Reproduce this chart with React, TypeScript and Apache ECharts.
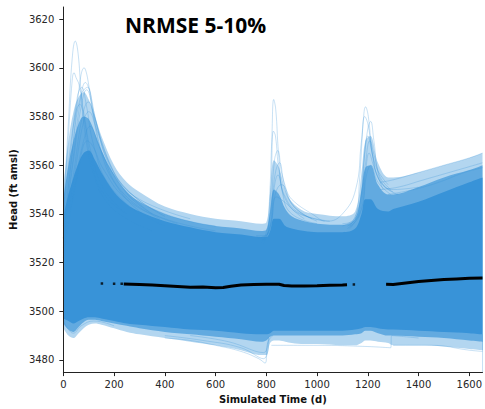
import React, { useEffect, useRef } from "react";
import * as echarts from "echarts";

// ---- data ----
const titleText = "NRMSE 5-10%";
const xTicks = [0, 200, 400, 600, 800, 1000, 1200, 1400, 1600];
const yTicks = [3480, 3500, 3520, 3540, 3560, 3580, 3600, 3620];

// envelope sample times (d)
const envT = [0, 20, 40, 60, 80, 100, 125, 150, 200, 250, 300, 400, 500, 600, 700, 780, 800, 815, 830, 850, 875, 900, 950, 1000, 1100, 1150, 1175, 1190, 1210, 1240, 1280, 1300, 1400, 1500, 1600, 1652];
// faint lower edge of ensemble
const lowFaint = [3493, 3490, 3489, 3491, 3493, 3494.5, 3495, 3494.5, 3493, 3491.5, 3490.5, 3489, 3487.5, 3486, 3484, 3482, 3482, 3487, 3488, 3488, 3487.5, 3487, 3486.5, 3486.5, 3486, 3486, 3487, 3488, 3488, 3487.5, 3487, 3486, 3486, 3485.5, 3484.5, 3484];
// medium lower edge
const lowMid = [3495, 3492.5, 3491.5, 3493.5, 3495.5, 3496.5, 3496.5, 3496, 3495, 3494, 3493, 3491.5, 3490.5, 3489.5, 3488.5, 3487.5, 3488, 3489.5, 3490, 3490, 3490, 3490, 3490, 3490, 3490, 3490.5, 3491, 3492, 3492, 3491, 3490, 3490, 3489.5, 3489, 3488, 3487.5];
// dense lower edge
const lowCore = [3497, 3496, 3495, 3496, 3497, 3497.5, 3497.5, 3497, 3496, 3495, 3494.5, 3493.5, 3492.5, 3492, 3491, 3490.5, 3490.5, 3491, 3492, 3492, 3492, 3492, 3492, 3492, 3492, 3492.5, 3493, 3493.5, 3493.5, 3493, 3492.5, 3492.5, 3492, 3491.5, 3491, 3490.5];
// dense upper edge
const highCore = [3539, 3548, 3555, 3561, 3565, 3566, 3562, 3557, 3549, 3544, 3541, 3537, 3534.5, 3532.5, 3531.5, 3530.5, 3530.5, 3533, 3538, 3538, 3535, 3534, 3533, 3532.5, 3532.5, 3534, 3540, 3546, 3546, 3542, 3541, 3542, 3545, 3549, 3553, 3555];
// medium upper edge
const highMid = [3546, 3560, 3570, 3577, 3580, 3579, 3573, 3566, 3556, 3549, 3545, 3540, 3537, 3535, 3534, 3533, 3533.5, 3541, 3550, 3548, 3542, 3539, 3537, 3536, 3535.5, 3538, 3550, 3559, 3560, 3552, 3548, 3548, 3551, 3555, 3558, 3560];
// faint upper edge
const highFaint = [3551, 3570, 3582, 3588, 3590, 3587, 3580, 3572, 3560, 3553, 3549, 3543, 3540, 3538, 3537, 3536, 3536.5, 3549, 3562, 3559, 3550, 3545, 3541, 3540, 3539, 3541, 3557, 3570, 3572, 3561, 3555, 3555, 3557, 3560, 3563, 3565];

// individual ensemble members visible outside the envelope
const earlyPeakLines = [
  [[0, 3541], [20, 3578], [35, 3604], [47, 3611], [58, 3606], [70, 3590], [90, 3570], [120, 3556], [170, 3545], [250, 3538], [350, 3533]],
  [[0, 3538], [20, 3572], [35, 3595], [42, 3598], [50, 3596], [62, 3593], [80, 3582], [110, 3565], [160, 3550], [250, 3540]],
  [[0, 3535], [30, 3560], [60, 3590], [82, 3600], [95, 3596], [115, 3582], [150, 3565], [200, 3553], [300, 3541], [400, 3535]],
  [[0, 3532], [35, 3560], [65, 3585], [87, 3594], [105, 3590], [130, 3577], [180, 3560], [250, 3549], [350, 3540]],
  [[0, 3530], [40, 3562], [70, 3584], [92, 3591], [115, 3584], [150, 3570], [220, 3553], [320, 3542], [450, 3536]],
  [[0, 3528], [45, 3560], [75, 3580], [98, 3586], [125, 3579], [170, 3564], [250, 3550], [400, 3539]],
  [[0, 3526], [50, 3560], [80, 3578], [100, 3582], [130, 3575], [180, 3561], [260, 3549], [400, 3540], [600, 3535]],
  [[0, 3524], [50, 3555], [85, 3572], [105, 3576], [140, 3568], [200, 3556], [300, 3546], [500, 3538]],
  [[0, 3540], [25, 3565], [50, 3582], [65, 3585], [80, 3580], [110, 3562], [160, 3548], [250, 3540]],
  [[0, 3522], [60, 3558], [95, 3570], [115, 3568], [160, 3558], [250, 3546], [400, 3538], [600, 3533]],
  [[0, 3536], [30, 3566], [55, 3588], [72, 3592], [90, 3585], [120, 3568], [180, 3552], [300, 3540]],
  [[0, 3530], [40, 3570], [70, 3589], [95, 3592], [120, 3580], [160, 3563], [240, 3548], [380, 3538]],
];
const midPeakLines = [
  [[760, 3531], [800, 3531], [812, 3545], [822, 3572], [829, 3587], [837, 3583], [848, 3565], [865, 3548], [900, 3540], [1000, 3536]],
  [[760, 3530], [805, 3532], [818, 3550], [828, 3574], [836, 3572], [850, 3558], [880, 3545], [950, 3538]],
  [[770, 3530], [810, 3533], [825, 3548], [838, 3558], [852, 3561], [870, 3553], [910, 3543], [1000, 3537]],
  [[780, 3529], [812, 3533], [830, 3550], [846, 3556], [870, 3548], [920, 3541], [1030, 3537]],
  [[780, 3528], [815, 3534], [835, 3548], [860, 3552], [900, 3546], [980, 3540], [1040, 3537], [1100, 3540], [1152, 3550], [1175, 3570], [1188, 3580], [1200, 3577], [1230, 3560], [1280, 3552]],
  [[790, 3528], [818, 3536], [840, 3547], [870, 3545], [930, 3540], [1050, 3537]],
  [[790, 3529], [815, 3540], [832, 3562], [845, 3566], [862, 3556], [900, 3544], [980, 3538]],
];
const latePeakLines = [
  [[1100, 3536], [1150, 3538], [1168, 3555], [1182, 3578], [1191, 3584], [1202, 3580], [1220, 3563], [1250, 3553], [1300, 3550], [1400, 3551]],
  [[1100, 3535], [1160, 3540], [1185, 3562], [1200, 3575], [1211, 3578], [1224, 3570], [1245, 3556], [1290, 3550]],
  [[1120, 3535], [1165, 3540], [1190, 3560], [1208, 3570], [1225, 3564], [1260, 3552], [1320, 3548]],
  [[1120, 3534], [1170, 3540], [1192, 3558], [1205, 3565], [1222, 3560], [1260, 3550]],
  [[1130, 3534], [1175, 3542], [1195, 3556], [1212, 3560], [1240, 3553], [1290, 3548]],
  [[1130, 3535], [1170, 3545], [1190, 3568], [1200, 3572], [1215, 3566], [1245, 3554], [1300, 3549]],
];
const rightUpperLines = [
  [[1250, 3553], [1300, 3554], [1400, 3557], [1500, 3560], [1600, 3563], [1652, 3565]],
  [[1250, 3550], [1320, 3551], [1420, 3554], [1520, 3557], [1620, 3560], [1652, 3561]],
  [[1280, 3548], [1380, 3550], [1480, 3553], [1580, 3557], [1652, 3559]],
];
const lowerTailLines = [
  [[400, 3489], [500, 3488], [600, 3486], [700, 3483.5], [770, 3480.5], [795, 3478.7], [805, 3487], [825, 3490]],
  [[400, 3490], [550, 3488], [700, 3485], [790, 3480.5], [810, 3489]],
  [[500, 3490], [650, 3487.5], [790, 3483], [808, 3489.5]],
  [[820, 3486], [1000, 3486], [1200, 3485.5], [1290, 3485], [1294, 3490], [1400, 3489]],
  [[1300, 3486], [1450, 3486], [1600, 3484], [1652, 3483.5]],
  [[0, 3496], [20, 3492.5], [39, 3491], [70, 3494], [120, 3496], [200, 3494]],
];

// observed heads (black)
const obsSegment1 = [[238, 3511.2], [300, 3511], [350, 3510.8], [400, 3510.5], [450, 3510.2], [500, 3509.9], [550, 3510], [600, 3509.7], [630, 3509.8], [660, 3510.3], [700, 3510.8], [750, 3511], [800, 3511.1], [850, 3511.1], [870, 3510.6], [900, 3510.4], [950, 3510.4], [1000, 3510.5], [1050, 3510.7], [1100, 3510.8], [1118, 3510.9]];
const obsSegment2 = [[1272, 3511.1], [1300, 3511], [1350, 3511.6], [1400, 3512.2], [1450, 3512.6], [1500, 3513], [1550, 3513.3], [1600, 3513.6], [1652, 3513.7]];
const obsDots = [[152, 3511.4], [200, 3511.3], [230, 3511.3], [1145, 3511]];

const BLUE = "#3893d8";
const BLUE_MID = "#62aae0";
const BLUE_FAINT = "#b3d6f0";

export default function App() {
  const ref = useRef<HTMLDivElement>(null);
  useEffect(() => {
    if (!ref.current) return;
    const chart = echarts.init(ref.current, null, { renderer: "svg" });

    // layered opaque areas, each filled down to the axis minimum; later layers paint over earlier ones
    const layers: [number[], string][] = [
      [highFaint, BLUE_FAINT],
      [highMid, BLUE_MID],
      [highCore, BLUE],
      [lowCore, BLUE_MID],
      [lowMid, BLUE_FAINT],
      [lowFaint, "#ffffff"],
    ];
    const bandSeries: any[] = layers.map(([arr, color]) => ({
      type: "line",
      symbol: "none",
      smooth: 0.35,
      silent: true,
      lineStyle: { width: 0, opacity: 0 },
      areaStyle: { color, opacity: 1, origin: "start" },
      data: envT.map((t, k) => [t, arr[k]]),
      z: 1,
    }));

    const memberLines = [...earlyPeakLines, ...midPeakLines, ...latePeakLines, ...rightUpperLines, ...lowerTailLines];
    const memberSeries: any[] = memberLines.map((pts) => ({
      type: "line",
      symbol: "none",
      smooth: 0.45,
      silent: true,
      lineStyle: { color: BLUE, width: 0.8, opacity: 0.35 },
      data: pts,
      z: 2,
    }));

    const obsSeries: any[] = [obsSegment1, obsSegment2].map((pts) => ({
      type: "line",
      symbol: "none",
      silent: true,
      lineStyle: { color: "#000", width: 3 },
      data: pts,
      z: 5,
    }));
    obsSeries.push({
      type: "scatter",
      symbol: "rect",
      symbolSize: 2.5,
      itemStyle: { color: "#000" },
      data: obsDots,
      z: 5,
    });

    const fmt = (v: number) => String(v);

    chart.setOption({
      animation: false,
      grid: { left: 62, right: 0, top: 7, bottom: 35, containLabel: false },
      graphic: [
        {
          type: "text",
          left: 125,
          top: 14,
          style: {
            text: titleText,
            font: "bold 21px 'Open Sans'",
            fill: "#000",
          },
          z: 10,
        },
      ],
      xAxis: {
        type: "value",
        min: 0,
        max: 1652,
        name: "Simulated Time (d)",
        nameLocation: "middle",
        nameGap: 21,
        nameTextStyle: { fontFamily: "DejaVu Sans", fontWeight: "bold", fontSize: 10, color: "#111" },
        splitLine: { show: false },
        z: 10,
        axisLine: { lineStyle: { color: "#222", width: 1 } },
        axisTick: { customValues: xTicks, length: 4, lineStyle: { color: "#222" } },
        axisLabel: { customValues: xTicks, formatter: fmt, fontFamily: "DejaVu Sans", fontSize: 10, color: "#262626", margin: 7 },
      },
      yAxis: {
        type: "value",
        min: 3475,
        max: 3625,
        name: "Head (ft amsl)",
        nameLocation: "middle",
        nameGap: 36,
        nameTextStyle: { fontFamily: "DejaVu Sans", fontWeight: "bold", fontSize: 10, color: "#111" },
        splitLine: { show: false },
        z: 10,
        axisLine: { show: true, lineStyle: { color: "#222", width: 1 } },
        axisTick: { show: true, customValues: yTicks, length: 4, lineStyle: { color: "#222" } },
        axisLabel: { customValues: yTicks, formatter: fmt, fontFamily: "DejaVu Sans", fontSize: 10, color: "#262626", margin: 9 },
      },
      series: [...bandSeries, ...memberSeries, ...obsSeries],
    });
    return () => chart.dispose();
  }, []);
  return <div ref={ref} style={{ width: 485, height: 409, position: "absolute", left: 0, top: 0 }} />;
}
